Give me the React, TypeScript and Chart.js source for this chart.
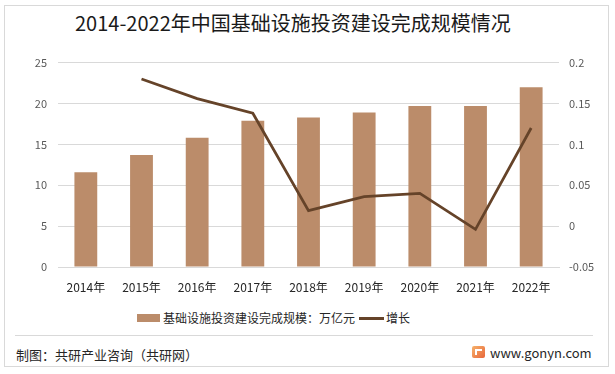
import React, { useEffect, useRef } from "react";
import { Chart, registerables } from "chart.js";
Chart.register(...registerables);

const years = ["2014年", "2015年", "2016年", "2017年", "2018年", "2019年", "2020年", "2021年", "2022年"];
const scaleValues = [11.6, 13.7, 15.8, 17.9, 18.3, 18.9, 19.7, 19.7, 22.0];
const growthValues: (number | null)[] = [null, 0.18, 0.156, 0.138, 0.019, 0.036, 0.04, -0.004, 0.12];
const leftAxis = { min: 0, max: 25, step: 5 };
const rightAxis = { min: -0.05, max: 0.2, step: 0.05 };
const barLabel = "基础设施投资建设完成规模：万亿元";
const lineLabel = "增长";
const titleText = "2014-2022年中国基础设施投资建设完成规模情况";

const FONT = '"Noto Sans CJK SC", "Noto Sans", sans-serif';
const BAR_COLOR = "#BB8C6A";
const LINE_COLOR = "#654329";

export default function App() {
  const ref = useRef<HTMLCanvasElement | null>(null);
  useEffect(() => {
    document.body.style.margin = "0";
    const ctx = ref.current!;
    const chart = new Chart(ctx, {
      type: "bar",
      data: {
        labels: years,
        datasets: [
          {
            type: "line",
            label: lineLabel,
            data: growthValues,
            yAxisID: "y1",
            borderColor: LINE_COLOR,
            backgroundColor: LINE_COLOR,
            borderWidth: 2.75,
            pointRadius: 0,
            tension: 0,
            order: 0,
          } as any,
          {
            type: "bar",
            label: barLabel,
            data: scaleValues,
            yAxisID: "y",
            backgroundColor: BAR_COLOR,
            barPercentage: 0.41,
            categoryPercentage: 1,
            order: 1,
          },
        ],
      },
      options: {
        responsive: false,
        animation: false,
        devicePixelRatio: 1,
        layout: { padding: { top: 7, left: 0, right: 0, bottom: 0 } },
        plugins: { legend: { display: false }, title: { display: false }, tooltip: { enabled: false } },
        scales: {
          x: {
            afterFit: (s: any) => { s.height = 33; },
            grid: { display: false, drawTicks: false },
            border: { display: true, color: "#d9d9d9" },
            ticks: { padding: 13, color: "#262626", font: { family: FONT, size: 12 }, maxRotation: 0 },
          },
          y: {
            position: "left",
            min: leftAxis.min,
            max: leftAxis.max,
            afterFit: (s: any) => { s.width = 58; },
            grid: { color: "#d9d9d9", drawTicks: false },
            border: { display: false },
            ticks: { stepSize: leftAxis.step, padding: 11, color: "#595959", font: { family: FONT, size: 11 } },
          },
          y1: {
            position: "right",
            min: rightAxis.min,
            max: rightAxis.max,
            afterFit: (s: any) => { s.width = 56; },
            grid: { display: false, drawTicks: false },
            border: { display: false },
            ticks: {
              stepSize: rightAxis.step,
              padding: 10,
              color: "#595959",
              font: { family: FONT, size: 11 },
              callback: (v: any) => String(Number(Number(v).toFixed(3))),
            },
          },
        },
      },
    });
    return () => chart.destroy();
  }, []);

  return (
    <div style={{ position: "relative", width: 615, height: 374, background: "#fff", fontFamily: FONT, overflow: "hidden" }}>
      <div style={{ position: "absolute", left: 4, top: 5, width: 605, height: 362, border: "1px solid #d9d9d9", boxSizing: "border-box" }} />
      <div style={{ position: "absolute", left: 75, top: 9, whiteSpace: "nowrap", fontSize: 20, lineHeight: "28px", color: "#1a1a1a" }}>{titleText}</div>
      <div style={{ position: "absolute", left: 0, top: 45, width: 615, height: 255 }}>
        <canvas ref={ref} width={615} height={255} style={{ width: 615, height: 255 }} />
      </div>
      <div style={{ position: "absolute", left: 137, top: 309, display: "flex", alignItems: "center", fontSize: 12, lineHeight: "18px", color: "#262626", whiteSpace: "nowrap" }}>
        <span style={{ display: "inline-block", width: 23, height: 8, background: BAR_COLOR, marginRight: 3 }} />
        <span>{barLabel}</span>
        <span style={{ display: "inline-block", width: 25, height: 3, background: LINE_COLOR, marginLeft: 4, marginRight: 2 }} />
        <span>{lineLabel}</span>
      </div>
      <div style={{ position: "absolute", left: 15, top: 335, width: 578, height: 1, background: "#d9d9d9" }} />
      <div style={{ position: "absolute", left: 16, top: 345, fontSize: 13, lineHeight: "20px", color: "#262626" }}>制图：共研产业咨询（共研网）</div>
      <div style={{ position: "absolute", left: 472, top: 346, width: 13, height: 12, borderRadius: 2, background: "linear-gradient(135deg, #f6b26b, #e8663a)" }}>
        <div style={{ position: "absolute", left: 3, top: 3, width: 7, height: 6, borderTop: "2px solid #fff", borderLeft: "2px solid #fff", boxSizing: "border-box" }} />
      </div>
      <div style={{ position: "absolute", left: 490, top: 343, fontSize: 13, lineHeight: "20px", color: "#262626" }}>www.gonyn.com</div>
    </div>
  );
}
